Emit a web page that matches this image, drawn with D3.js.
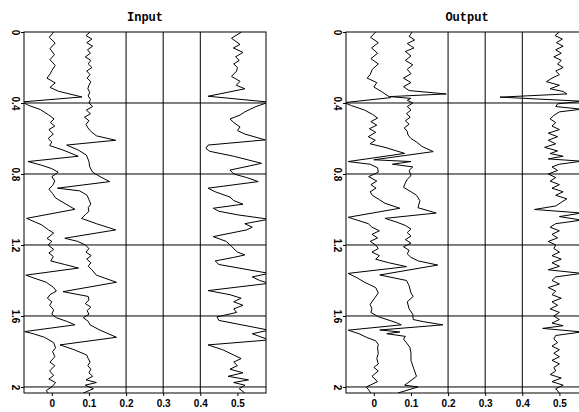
<!DOCTYPE html>
<html>
<head>
<meta charset="utf-8">
<script src="https://cdn.jsdelivr.net/npm/d3@7"></script>
<style>
  body { margin: 0; background: #fff; }
  svg { display: block; }
</style>
</head>
<body>
<div id="chart"></div>
<script>
// tick values and grid lines
var xTicks = [0, 0.1, 0.2, 0.3, 0.4, 0.5];
var yTicks = [0, 0.4, 0.8, 1.2, 1.6, 2];
var xGrid = [0.2, 0.3, 0.4];
var yGrid = [0.4, 0.8, 1.2, 1.6, 2];
var titles = ["Input", "Output"];

// traces as [depth, amplitude]
var inA = [[0,0.005],[0.03,-0.007],[0.062,0.009],[0.094,-0.005],[0.128,0.007],[0.156,-0.005],[0.188,0.009],[0.218,0],[0.24,-0.006],[0.26,-0.013],[0.287,0.009],[0.312,-0.005],[0.334,0.018],[0.366,0.081],[0.394,-0.08],[0.413,-0.063],[0.437,-0.031],[0.468,-0.008],[0.49,0.006],[0.51,-0.004],[0.53,0.008],[0.55,-0.008],[0.575,0.004],[0.6,-0.01],[0.62,0],[0.64,-0.006],[0.665,0.03],[0.7,0.071],[0.73,-0.064],[0.751,-0.027],[0.77,0],[0.79,0.017],[0.815,0],[0.84,0.008],[0.865,0.002],[0.885,-0.008],[0.91,0.002],[0.935,0.01],[0.96,0.03],[0.999,0.062],[1.05,-0.068],[1.087,-0.027],[1.115,-0.009],[1.133,0.005],[1.163,-0.013],[1.18,0],[1.2,-0.01],[1.225,0.005],[1.245,-0.008],[1.265,0.004],[1.29,-0.003],[1.31,0.035],[1.33,0.072],[1.37,-0.07],[1.385,-0.05],[1.41,-0.015],[1.44,0.005],[1.46,0.012],[1.48,-0.005],[1.5,-0.012],[1.52,0],[1.54,-0.006],[1.565,0.005],[1.59,0],[1.61,0.012],[1.63,0.04],[1.65,0.062],[1.688,-0.073],[1.7,-0.05],[1.72,-0.02],[1.75,0.005],[1.78,0.01],[1.8,0.002],[1.83,0.008],[1.86,-0.005],[1.88,0.008],[1.91,-0.006],[1.935,0.005],[1.955,-0.008],[1.975,0.01],[2,0],[2.02,-0.015],[2.034,-0.01]];
var inB = [[0,0.103],[0.02,0.092],[0.04,0.108],[0.06,0.094],[0.08,0.11],[0.1,0.096],[0.12,0.104],[0.14,0.09],[0.16,0.105],[0.18,0.098],[0.2,0.108],[0.22,0.094],[0.24,0.103],[0.26,0.095],[0.28,0.105],[0.3,0.1],[0.32,0.097],[0.34,0.102],[0.36,0.098],[0.38,0.104],[0.4,0.1],[0.42,0.11],[0.44,0.093],[0.46,0.104],[0.48,0.088],[0.5,0.1],[0.52,0.092],[0.54,0.097],[0.56,0.105],[0.585,0.12],[0.61,0.172],[0.637,0.04],[0.665,0.071],[0.693,0.093],[0.73,0.1],[0.76,0.102],[0.79,0.11],[0.815,0.13],[0.843,0.156],[0.88,0.015],[0.895,0.075],[0.92,0.095],[0.945,0.1],[0.97,0.105],[0.99,0.098],[1.01,0.1],[1.03,0.09],[1.05,0.08],[1.08,0.12],[1.115,0.172],[1.162,0.035],[1.18,0.07],[1.2,0.09],[1.22,0.1],[1.24,0.092],[1.26,0.106],[1.28,0.094],[1.3,0.105],[1.32,0.098],[1.34,0.108],[1.37,0.12],[1.41,0.174],[1.463,0.03],[1.49,0.098],[1.51,0.1],[1.53,0.09],[1.55,0.105],[1.57,0.095],[1.59,0.1],[1.61,0.085],[1.63,0.098],[1.65,0.103],[1.68,0.13],[1.72,0.174],[1.763,0.022],[1.79,0.06],[1.82,0.094],[1.84,0.098],[1.86,0.103],[1.88,0.097],[1.9,0.105],[1.92,0.1],[1.94,0.11],[1.96,0.092],[1.975,0.12],[1.99,0.09],[2.01,0.112],[2.034,0.085]];
var inC = [[0,0.511],[0.035,0.484],[0.07,0.507],[0.09,0.489],[0.115,0.515],[0.14,0.495],[0.16,0.505],[0.18,0.49],[0.2,0.5],[0.22,0.498],[0.25,0.484],[0.278,0.507],[0.3,0.497],[0.32,0.52],[0.362,0.421],[0.395,0.585],[0.42,0.55],[0.45,0.52],[0.468,0.507],[0.49,0.48],[0.51,0.49],[0.535,0.507],[0.555,0.5],[0.575,0.52],[0.608,0.575],[0.637,0.421],[0.655,0.415],[0.672,0.425],[0.7,0.49],[0.74,0.565],[0.778,0.48],[0.8,0.49],[0.82,0.525],[0.843,0.556],[0.88,0.421],[0.9,0.44],[0.93,0.48],[0.95,0.49],[0.97,0.515],[0.993,0.435],[1.01,0.45],[1.03,0.5],[1.055,0.585],[1.08,0.52],[1.1,0.54],[1.115,0.525],[1.153,0.435],[1.18,0.47],[1.21,0.485],[1.24,0.5],[1.256,0.52],[1.27,0.49],[1.29,0.44],[1.31,0.45],[1.36,0.585],[1.38,0.54],[1.4,0.56],[1.416,0.585],[1.457,0.421],[1.48,0.48],[1.5,0.51],[1.52,0.49],[1.54,0.515],[1.56,0.49],[1.58,0.498],[1.605,0.445],[1.625,0.45],[1.68,0.585],[1.7,0.54],[1.735,0.585],[1.763,0.421],[1.79,0.46],[1.82,0.49],[1.84,0.51],[1.86,0.49],[1.88,0.5],[1.9,0.48],[1.92,0.515],[1.94,0.475],[1.96,0.53],[1.975,0.49],[1.99,0.52],[2.01,0.505],[2.034,0.52]];

var outA = [[0,0.005],[0.03,-0.009],[0.06,0.012],[0.09,-0.006],[0.12,0.01],[0.15,-0.008],[0.18,0.012],[0.21,-0.004],[0.24,-0.01],[0.26,-0.018],[0.285,0.008],[0.31,0],[0.335,0.02],[0.37,0.045],[0.398,-0.08],[0.415,-0.06],[0.44,-0.025],[0.465,-0.003],[0.485,0.01],[0.505,-0.008],[0.525,0.008],[0.545,-0.012],[0.565,0.005],[0.59,-0.015],[0.61,0.004],[0.63,-0.01],[0.65,0.03],[0.684,0.083],[0.73,-0.069],[0.745,-0.01],[0.765,0.01],[0.79,0.012],[0.815,-0.014],[0.84,0.008],[0.86,-0.008],[0.88,0.006],[0.9,-0.01],[0.92,-0.004],[0.945,0.015],[0.965,0.03],[0.993,0.07],[1.044,-0.069],[1.06,-0.045],[1.08,-0.015],[1.1,-0.005],[1.12,0.015],[1.14,-0.005],[1.16,0.01],[1.18,-0.01],[1.2,0.005],[1.22,0.012],[1.24,-0.005],[1.26,0.015],[1.28,0.005],[1.3,0.04],[1.322,0.088],[1.36,-0.069],[1.385,-0.045],[1.41,-0.025],[1.44,0.005],[1.47,0.012],[1.5,0.002],[1.535,-0.01],[1.56,-0.005],[1.58,-0.008],[1.604,0.012],[1.637,0.06],[1.65,0.074],[1.68,-0.069],[1.7,-0.04],[1.72,-0.02],[1.74,0.005],[1.76,0.012],[1.78,0.01],[1.81,0.012],[1.84,0.008],[1.87,0.012],[1.89,0],[1.91,0.012],[1.94,-0.005],[1.97,0.01],[2,-0.02],[2.034,-0.008]];
var outB = [[0,0.103],[0.025,0.095],[0.045,0.11],[0.065,0.09],[0.09,0.108],[0.11,0.085],[0.135,0.1],[0.16,0.085],[0.185,0.105],[0.21,0.09],[0.235,0.1],[0.26,0.08],[0.285,0.1],[0.308,0.08],[0.33,0.095],[0.349,0.195],[0.364,0.043],[0.374,0.1],[0.385,0.09],[0.4,0.105],[0.42,0.09],[0.44,0.1],[0.46,0.088],[0.48,0.098],[0.5,0.085],[0.52,0.095],[0.54,0.082],[0.56,0.09],[0.58,0.092],[0.6,0.1],[0.62,0.115],[0.645,0.13],[0.674,0.16],[0.72,0],[0.73,0.1],[0.745,0.05],[0.76,0.105],[0.78,0.095],[0.81,0.1],[0.83,0.09],[0.85,0.085],[0.875,0.08],[0.9,0.1],[0.92,0.115],[0.95,0.124],[0.99,0.119],[1.02,0.168],[1.05,0.03],[1.07,0.06],[1.09,0.085],[1.11,0.1],[1.13,0.09],[1.15,0.1],[1.17,0.085],[1.19,0.1],[1.21,0.08],[1.23,0.095],[1.25,0.09],[1.27,0.1],[1.29,0.12],[1.313,0.172],[1.369,0.016],[1.4,0.088],[1.43,0.095],[1.47,0.1],[1.49,0.106],[1.52,0.09],[1.56,0.095],[1.59,0.105],[1.62,0.106],[1.632,0.133],[1.65,0.186],[1.679,0.016],[1.69,0.07],[1.7,0.035],[1.715,0.085],[1.73,0.08],[1.776,0.097],[1.81,0.1],[1.85,0.1],[1.9,0.108],[1.94,0.115],[1.99,0.083],[2.0,0.119],[2.034,0.065]];
var outC = [[0,0.5],[0.02,0.488],[0.04,0.508],[0.06,0.492],[0.08,0.51],[0.1,0.49],[0.12,0.505],[0.14,0.485],[0.16,0.505],[0.18,0.495],[0.2,0.51],[0.22,0.49],[0.24,0.5],[0.26,0.48],[0.28,0.465],[0.3,0.5],[0.32,0.475],[0.335,0.51],[0.349,0.52],[0.367,0.34],[0.39,0.56],[0.405,0.495],[0.42,0.49],[0.435,0.56],[0.45,0.5],[0.47,0.485],[0.49,0.475],[0.51,0.49],[0.53,0.48],[0.55,0.5],[0.57,0.47],[0.59,0.495],[0.61,0.47],[0.63,0.49],[0.65,0.46],[0.67,0.495],[0.685,0.475],[0.7,0.51],[0.715,0.47],[0.728,0.56],[0.745,0.5],[0.76,0.48],[0.78,0.495],[0.8,0.47],[0.82,0.49],[0.84,0.475],[0.86,0.5],[0.88,0.48],[0.9,0.51],[0.92,0.49],[0.94,0.52],[0.96,0.505],[0.98,0.49],[1,0.433],[1.02,0.56],[1.04,0.5],[1.06,0.56],[1.08,0.49],[1.1,0.475],[1.12,0.5],[1.14,0.48],[1.16,0.495],[1.18,0.47],[1.2,0.49],[1.22,0.485],[1.24,0.5],[1.26,0.48],[1.28,0.505],[1.3,0.48],[1.32,0.5],[1.34,0.47],[1.36,0.56],[1.38,0.49],[1.4,0.48],[1.42,0.5],[1.44,0.47],[1.46,0.49],[1.48,0.48],[1.5,0.505],[1.52,0.48],[1.54,0.495],[1.56,0.475],[1.58,0.5],[1.6,0.485],[1.62,0.5],[1.64,0.48],[1.655,0.51],[1.67,0.455],[1.69,0.56],[1.71,0.49],[1.73,0.485],[1.75,0.495],[1.77,0.48],[1.79,0.5],[1.81,0.485],[1.83,0.5],[1.85,0.48],[1.87,0.5],[1.89,0.485],[1.91,0.49],[1.93,0.475],[1.95,0.505],[1.97,0.48],[1.99,0.51],[2.01,0.49],[2.034,0.5]];

// overall size and panel geometry
var width = 579, height = 412;
var panelW = 242, panelH = 361, marginTop = 32;
var panelLeft = [24, 346];
var tickFont = "bold 10px 'Liberation Sans', Arial, sans-serif";

var svg = d3.select("#chart")
  .append("svg")
  .attr("width", width)
  .attr("height", height);

function drawPanel(i, traces) {
  var x = d3.scaleLinear().domain([-0.075, 0.577]).range([0, panelW]);
  var y = d3.scaleLinear().domain([0, 2.034]).range([0, panelH]);

  var g = svg.append("g")
    .attr("transform", "translate(" + panelLeft[i] + "," + marginTop + ")");

  // title
  g.append("text")
    .attr("x", panelW / 2)
    .attr("y", -11)
    .attr("text-anchor", "middle")
    .style("font", "bold 12px 'Liberation Mono', monospace")
    .text(titles[i]);

  // grid lines
  g.selectAll(".vgrid")
    .data(xGrid)
    .enter().append("line")
    .attr("x1", d => x(d)).attr("x2", d => x(d))
    .attr("y1", 0).attr("y2", panelH)
    .attr("stroke", "#000");

  g.selectAll(".hgrid")
    .data(yGrid)
    .enter().append("line")
    .attr("x1", 0).attr("x2", panelW)
    .attr("y1", d => y(d)).attr("y2", d => y(d))
    .attr("stroke", "#000");

  // traces, clipped to the frame
  var clipId = "clip" + i;
  g.append("clipPath").attr("id", clipId)
    .append("rect").attr("width", panelW).attr("height", panelH);

  var line = d3.line()
    .x(d => x(d[1]))
    .y(d => y(d[0]));

  g.append("g")
    .attr("clip-path", "url(#" + clipId + ")")
    .selectAll("path")
    .data(traces)
    .enter().append("path")
    .attr("fill", "none")
    .attr("stroke", "#000")
    .attr("stroke-width", 1)
    .attr("d", line);

  // frame
  g.append("rect")
    .attr("width", panelW).attr("height", panelH)
    .attr("fill", "none")
    .attr("stroke", "#000");

  // x axis
  var xAxis = g.append("g")
    .attr("transform", "translate(0," + panelH + ")")
    .call(d3.axisBottom(x).tickValues(xTicks).tickSize(3).tickFormat(d => String(d)));
  xAxis.select(".domain").remove();
  xAxis.selectAll("text")
    .attr("y", 7)
    .attr("dy", "0.71em")
    .style("font", tickFont);

  // y axis, labels turned on their side
  var yAxis = g.append("g")
    .call(d3.axisLeft(y).tickValues(yTicks).tickSize(3).tickFormat(d => String(d)));
  yAxis.select(".domain").remove();
  yAxis.selectAll("text")
    .attr("x", null)
    .attr("dy", null)
    .attr("text-anchor", "middle")
    .attr("transform", "translate(-12.5,0) rotate(90)")
    .style("font", tickFont);
}

drawPanel(0, [inA, inB, inC]);
drawPanel(1, [outA, outB, outC]);
</script>
</body>
</html>
